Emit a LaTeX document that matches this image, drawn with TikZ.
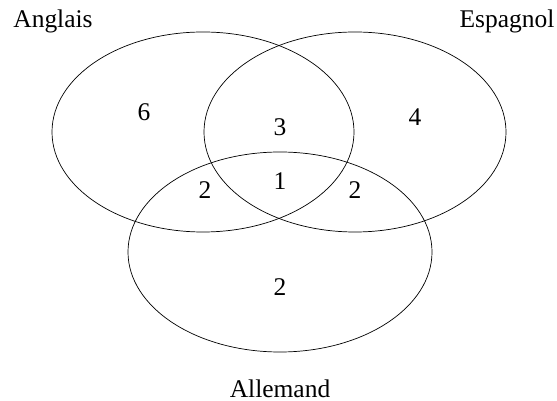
\documentclass[tikz,border=0pt]{standalone}
\usepackage{fontspec}
\setmainfont{Liberation Serif}
\usepackage{tikz}

\tikzset{
  setname/.style={anchor=base,font=\fontsize{14.5}{17}\selectfont},
  count/.style={font=\fontsize{14.5}{17}\selectfont},
}

\begin{document}
\begin{tikzpicture}[x=0.02cm,y=-0.02cm]
\useasboundingbox (0,0) rectangle (557,401);
\coordinate (cA) at (203,132);
\coordinate (cE) at (355,132);
\coordinate (cD) at (280,252);
\draw (cA) ellipse [x radius=151,y radius=100];
\draw (cE) ellipse [x radius=151,y radius=100];
\draw (cD) ellipse [x radius=152,y radius=100];

\node[setname] (anglais) at (53,28) {Anglais};
\node[setname] (espagnol) at (507,28) {Espagnol};
\node[setname] (allemand) at (280,397) {Allemand};

\node[count] (nA) at (144,112) {6};
\node[count] (nE) at (415,117) {4};
\node[count] (nAE) at (280,127) {3};
\node[count] (nAD) at (205,190) {2};
\node[count] (nED) at (355,190) {2};
\node[count] (nAED) at (280,181) {1};
\node[count] (nD) at (280,287) {2};
\end{tikzpicture}
\end{document}
